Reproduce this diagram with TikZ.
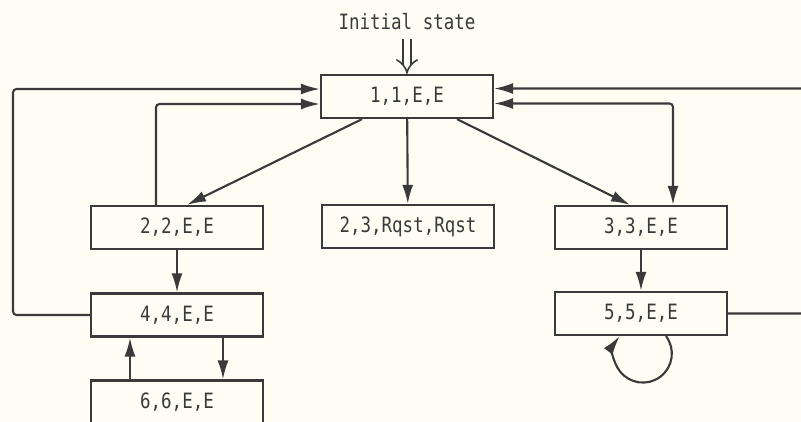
\documentclass[tikz,border=0pt]{standalone}
\usepackage{fontspec}
\setmonofont[FakeStretch=0.83]{DejaVu Sans Mono}
\usetikzlibrary{calc, arrows.meta}
\definecolor{paper}{RGB}{253,253,244}
\definecolor{ink}{RGB}{58,58,58}

\begin{document}
\begin{tikzpicture}[x=0.02cm, y=-0.02cm, font=\ttfamily\fontsize{12}{14}\selectfont, text=ink, state/.style={draw=ink, line width=1.3pt, minimum width=3.44cm, minimum height=0.86cm, inner sep=0pt}, arrow/.style={draw=ink, line width=1.2pt, rounded corners=2pt, -{Latex[length=3.8mm, width=2.2mm]}}, both/.style={arrow, {Latex[length=3.8mm, width=2.2mm]}-{Latex[length=3.8mm, width=2.2mm]}}, start/.style={draw=ink, double=paper, double distance=3.5pt, line width=0.9pt, -{Implies}}]
\path[use as bounding box, fill=paper] (0,0) rectangle (801,422);
\node (init) at (407,22) {Initial state};
\node[state] (s11) at (407,96.5) {1,1,E,E};
\node[state] (s22) at (177,227.5) {2,2,E,E};
\node[state] (s23) at (408,226.5) {2,3,Rqst,Rqst};
\node[state] (s33) at (641,227.5) {3,3,E,E};
\node[state] (s44) at (177,315) {4,4,E,E};
\node[state] (s55) at (641,313.5) {5,5,E,E};
\node[state] (s66) at (177,402) {6,6,E,E};
\coordinate (lturn) at (13,89);
\coordinate (rturn) at (815,313.5);
\draw[start] ($(init.south)+(0,3)$) -- (s11.north);
\draw[arrow] ($(s11.south)+(-45,0)$) -- ($(s22.north)+(10,0)$);\draw[arrow] (s11) -- (s23);\draw[arrow] ($(s11.south)+(50,0)$) -- ($(s33.north)+(-11,0)$);
\draw[both] ($(s11.east)+(0,7)$) -| ($(s33.north)+(32,0)$);
\draw[arrow] (s55.east) -- (rturn) |- ($(s11.east)+(0,-8)$);
\draw[arrow] ($(s22.north)+(-21,0)$) |- ($(s11.west)+(0,7.5)$);
\draw[arrow] (s44.west) -| (lturn) -- ($(s11.west)+(0,-7.5)$);
\draw[arrow] (s22) -- (s44);\draw[arrow] (s33) -- (s55);
\draw[arrow] ($(s66.north)+(-47,0)$) -- ($(s44.south)+(-47,0)$);\draw[arrow] ($(s44.south)+(46,0)$) -- ($(s66.north)+(46,0)$);
\draw[arrow] ($(s55.south)+(25,0)$) arc[start angle=37, end angle=-217, radius=0.58cm];
\end{tikzpicture}
\end{document}
